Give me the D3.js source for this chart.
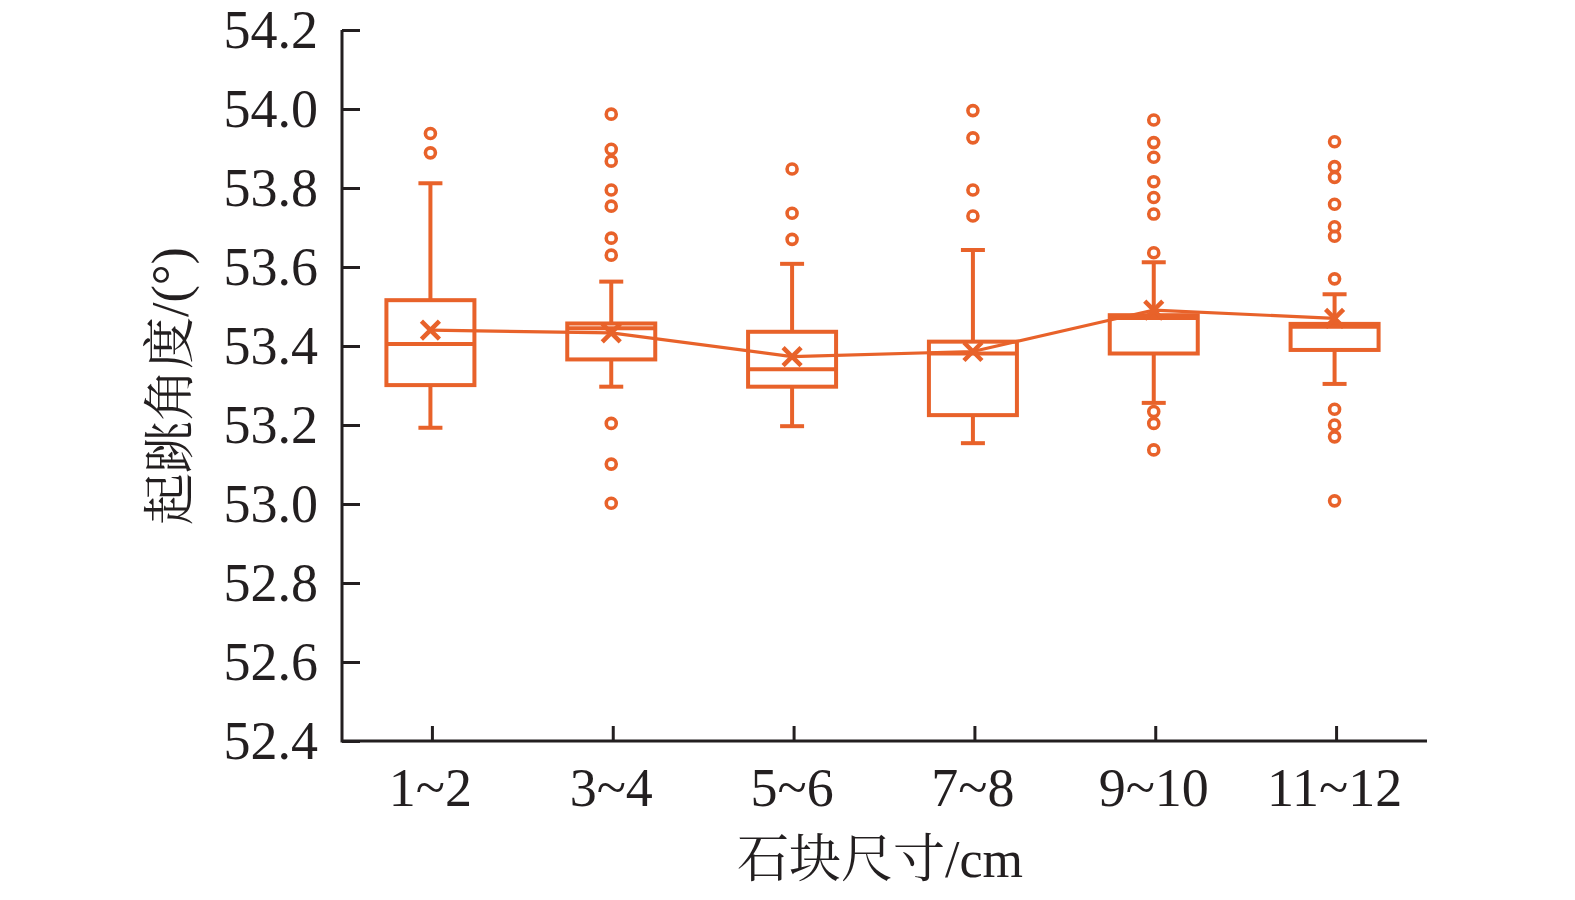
<!DOCTYPE html>
<html>
<head>
<meta charset="utf-8">
<script src="https://cdn.jsdelivr.net/npm/d3@7"></script>
<style>
  html, body { margin: 0; padding: 0; background: #fff; }
  svg { display: block; }
</style>
</head>
<body>
<div id="chart"></div>
<script>
const categories = ["1~2", "3~4", "5~6", "7~8", "9~10", "11~12"];
const whiskerHigh = [53.812, 53.563, 53.608, 53.643, 53.612, 53.531];
const q3 = [53.516, 53.457, 53.436, 53.411, 53.478, 53.456];
const median = [53.405, 53.445, 53.341, 53.381, 53.471, 53.449];
const q1 = [53.301, 53.366, 53.297, 53.225, 53.381, 53.390];
const whiskerLow = [53.193, 53.297, 53.197, 53.154, 53.256, 53.304];
const means = [53.440, 53.433, 53.373, 53.386, 53.491, 53.470];
const outliers = [
  [53.938, 53.889],
  [53.987, 53.898, 53.868, 53.795, 53.754, 53.673, 53.630, 53.204, 53.101, 53.002],
  [53.848, 53.736, 53.670],
  [53.996, 53.927, 53.795, 53.729],
  [53.972, 53.915, 53.878, 53.816, 53.776, 53.734, 53.636, 53.234, 53.204, 53.137],
  [53.917, 53.854, 53.827, 53.759, 53.702, 53.678, 53.570, 53.240, 53.200, 53.170, 53.008]
];
const yTicks = [52.4, 52.6, 52.8, 53.0, 53.2, 53.4, 53.6, 53.8, 54.0, 54.2];

const W = 1575, H = 900;
const color = "#e8622a";
const ink = "#231f20";
const font = "'Liberation Serif', 'Times New Roman', 'Noto Serif CJK SC', 'Noto Sans CJK SC', serif";

const svg = d3.select("#chart").append("svg").attr("width", W).attr("height", H);

const x = d3.scaleBand().domain(categories).range([342, 1427]);
const y = d3.scaleLinear().domain([52.4, 54.2]).range([741, 30]);
const cx = c => x(c) + x.bandwidth() / 2 - 2;
const boxW = 88, capW = 24;

// --- Axes ---
const yAxis = svg.append("g").attr("transform", "translate(342,0)")
  .call(d3.axisRight(y).tickValues(yTicks).tickSize(18).tickFormat(d3.format(".1f")));
yAxis.select(".domain").remove();
yAxis.selectAll(".tick text").remove();
yAxis.selectAll(".tick line").attr("stroke", ink).attr("stroke-width", 3);
yTicks.forEach(t => {
  svg.append("text").attr("x", 318).attr("y", y(t) + 18)
    .attr("text-anchor", "end").attr("font-family", font).attr("font-size", 54).attr("fill", ink)
    .text(d3.format(".1f")(t));
});

const xAxis = svg.append("g").attr("transform", "translate(0,741)")
  .call(d3.axisTop(x).tickSize(15).tickFormat(""));
xAxis.select(".domain").remove();
xAxis.selectAll(".tick line").attr("stroke", ink).attr("stroke-width", 3);
categories.forEach(c => {
  svg.append("text").attr("x", x(c) + x.bandwidth() / 2 - 2).attr("y", 806)
    .attr("text-anchor", "middle").attr("font-family", font).attr("font-size", 54).attr("fill", ink)
    .text(c);
});

svg.append("path")
  .attr("d", `M342,30V741H1427`)
  .attr("fill", "none").attr("stroke", ink).attr("stroke-width", 3);

svg.append("text").attr("x", 880).attr("y", 877)
  .attr("text-anchor", "middle").attr("font-family", font).attr("font-size", 52).attr("fill", ink)
  .text("石块尺寸/cm");

svg.append("text")
  .attr("transform", "translate(188,386) rotate(-90)")
  .attr("text-anchor", "middle").attr("font-family", font).attr("font-size", 52).attr("fill", ink)
  .text("起跳角度/(°)");

// --- Boxes ---
const g = svg.append("g").attr("stroke", color).attr("fill", "none").attr("stroke-width", 4);
categories.forEach((c, i) => {
  const px = cx(c);
  g.append("line").attr("x1", px).attr("x2", px).attr("y1", y(whiskerHigh[i])).attr("y2", y(q3[i]));
  g.append("line").attr("x1", px).attr("x2", px).attr("y1", y(q1[i])).attr("y2", y(whiskerLow[i]));
  g.append("line").attr("x1", px - capW / 2).attr("x2", px + capW / 2).attr("y1", y(whiskerHigh[i])).attr("y2", y(whiskerHigh[i]));
  g.append("line").attr("x1", px - capW / 2).attr("x2", px + capW / 2).attr("y1", y(whiskerLow[i])).attr("y2", y(whiskerLow[i]));
  g.append("rect").attr("x", px - boxW / 2).attr("y", y(q3[i]))
    .attr("width", boxW).attr("height", y(q1[i]) - y(q3[i]));
  g.append("line").attr("x1", px - boxW / 2).attr("x2", px + boxW / 2).attr("y1", y(median[i])).attr("y2", y(median[i]));

  outliers[i].forEach(v => {
    g.append("circle").attr("cx", px).attr("cy", y(v)).attr("r", 5).attr("stroke-width", 3.6);
  });
});

// --- Mean line + markers ---
svg.append("path")
  .datum(means)
  .attr("d", d3.line().x((d, i) => cx(categories[i])).y(d => y(d)))
  .attr("fill", "none").attr("stroke", color).attr("stroke-width", 3.2);

categories.forEach((c, i) => {
  const px = cx(c), py = y(means[i]), s = 9;
  svg.append("path")
    .attr("d", `M${px - s},${py - s}L${px + s},${py + s}M${px - s},${py + s}L${px + s},${py - s}`)
    .attr("stroke", color).attr("stroke-width", 4.5).attr("fill", "none");
});
</script>
</body>
</html>
